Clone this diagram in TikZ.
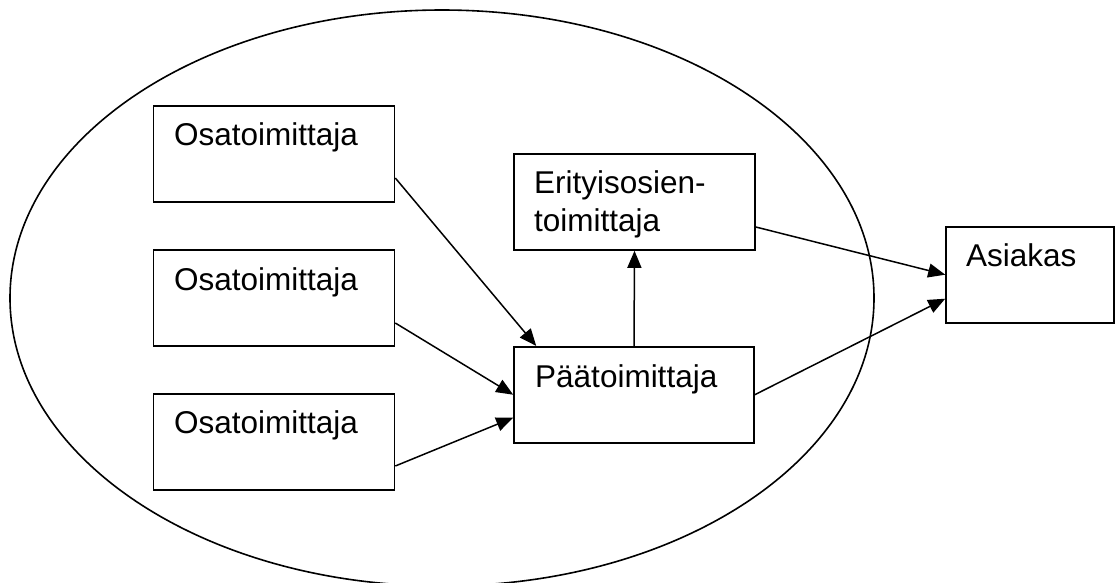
\documentclass[tikz,border=0pt]{standalone}
\usepackage{fontspec}
\setmainfont{Liberation Sans}
\usetikzlibrary{arrows.meta}
\begin{document}
\begin{tikzpicture}[x=1pt,y=-1pt,
  box/.style={draw, line width=1.6pt, rectangle, minimum height=96pt, inner sep=0pt},
  lbl/.style={anchor=base west, inner sep=0pt, font=\fontsize{31.5}{38}\selectfont},
  arr/.style={line width=1.5pt, -{Triangle[length=17pt,width=14pt]}}]
\useasboundingbox (0,0) rectangle (1118,582);
\begin{scope}
\clip (0,0) rectangle (1118,582);
\draw[line width=1.6pt] (442,298) ellipse [x radius=432, y radius=288];
\end{scope}
\node[box, minimum width=241pt] (o1) at (274,154) {};
\node[box, minimum width=241pt] (o2) at (274,298) {};
\node[box, minimum width=241pt] (o3) at (274,442) {};
\node[box, minimum width=241pt] (e) at (634.5,202) {};
\node[box, minimum width=240pt] (p) at (634,394.7) {};
\node[box, minimum width=168pt] (a) at (1030,274.7) {};
\node[lbl] (t1) at (174,145.5) {Osatoimittaja};
\node[lbl] (t2) at (174,290) {Osatoimittaja};
\node[lbl] (t3) at (174,433.7) {Osatoimittaja};
\node[lbl] (te1) at (534,193) {Erityisosien-};
\node[lbl] (te2) at (534,231) {toimittaja};
\node[lbl] (tp) at (535,387.3) {Päätoimittaja};
\node[lbl] (ta) at (966,266) {Asiakas};
\draw[arr] ([yshift=-24pt]o1.east) -- ([xshift=23pt]p.north west);
\draw[arr] ([yshift=-25pt]o2.east) -- (p.west);
\draw[arr] ([yshift=-24pt]o3.east) -- ([yshift=-23pt]p.west);
\draw[arr] (p.north) -- (e.south);
\draw[arr] ([yshift=-25pt]e.east) -- (a.west);
\draw[arr] (p.east) -- ([yshift=-24pt]a.west);
\end{tikzpicture}
\end{document}
